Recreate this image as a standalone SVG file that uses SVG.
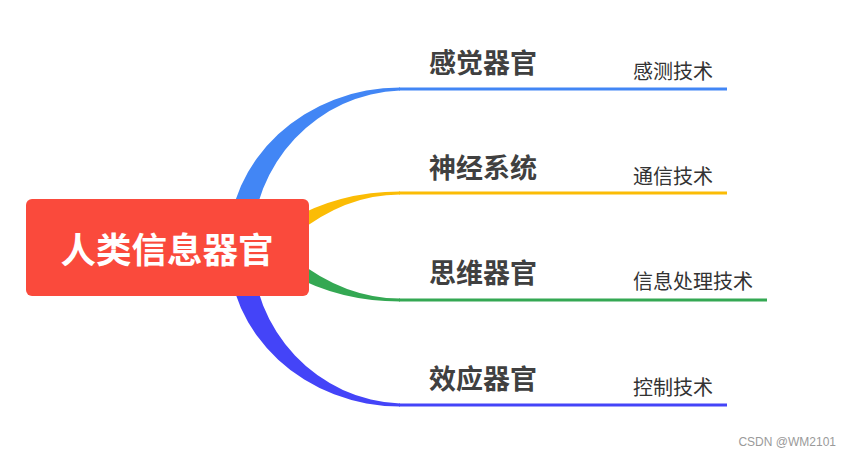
<svg xmlns="http://www.w3.org/2000/svg" width="852" height="456" viewBox="0 0 852 456">
<style>
.t{font-family:"Noto Sans CJK SC","Noto Sans",sans-serif;}
.main{font-size:27px;font-weight:bold;fill:#404040;}
.sub{font-size:20px;fill:#333333;}
.root{font-size:35.5px;font-weight:bold;fill:#ffffff;}
.ln{fill:none;stroke-width:3;}
</style>
<rect width="852" height="456" fill="#ffffff"/>
<g id="connectors">
  <path d="M228,247 A172,159 0 0 1 400,87.5 L400,90.5 A154,156.5 0 0 0 252,247 Z" fill="#4286F5"/>
  <line class="ln" x1="399" y1="89" x2="727" y2="89" stroke="#4286F5"/>
  <path d="M290,220 Q340,191.5 400,191.5 L400,194.5 Q345,194.5 295,235 Z" fill="#FBBC05"/>
  <line class="ln" x1="399" y1="193" x2="727" y2="193" stroke="#FBBC05"/>
  <path d="M290,274 Q340,301.5 400,301.5 L400,298.5 Q345,298.5 295,259 Z" fill="#34A853"/>
  <line class="ln" x1="399" y1="300" x2="767" y2="300" stroke="#34A853"/>
  <path d="M228,247 A172,159 0 0 0 400,406.5 L400,403.5 A154,156.5 0 0 1 252,247 Z" fill="#4444F8"/>
  <line class="ln" x1="399" y1="405" x2="727" y2="405" stroke="#4444F8"/>
</g>
<g id="root">
  <rect x="26" y="199" width="283" height="97" rx="6" fill="#FA4A3C"/>
  <text class="t root" x="167" y="263" text-anchor="middle">人类信息器官</text>
</g>
<g id="n1">
  <text class="t main" x="429" y="73">感觉器官</text>
  <text class="t sub" x="633" y="79">感测技术</text>
</g>
<g id="n2">
  <text class="t main" x="429" y="178">神经系统</text>
  <text class="t sub" x="633" y="184">通信技术</text>
</g>
<g id="n3">
  <text class="t main" x="429" y="283">思维器官</text>
  <text class="t sub" x="633" y="289">信息处理技术</text>
</g>
<g id="n4">
  <text class="t main" x="429" y="389">效应器官</text>
  <text class="t sub" x="633" y="395">控制技术</text>
</g>
<text x="836" y="446" text-anchor="end" font-family="Liberation Sans, Arial, sans-serif" font-size="12" fill="#9a9a9a">CSDN @WM2101</text>
</svg>
